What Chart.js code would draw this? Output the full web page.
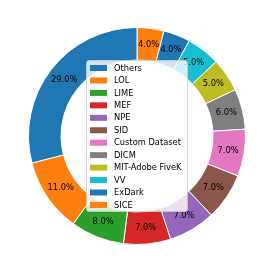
<!DOCTYPE html>
<html>
<head>
<meta charset="utf-8">
<script src="https://cdn.jsdelivr.net/npm/chart.js@4"></script>
<style>
  html, body { margin: 0; padding: 0; background: #ffffff; }
  #wrap { width: 274px; height: 274px; }
</style>
</head>
<body>
<div id="wrap"><canvas id="datasetChart" width="274" height="274"></canvas></div>
<script>
// Dataset usage shares (percent), in legend order
const datasetNames = ['Others', 'LOL', 'LIME', 'MEF', 'NPE', 'SID', 'Custom Dataset',
    'DICM', 'MIT-Adobe FiveK', 'VV', 'ExDark', 'SICE'];
const datasetShares = [29, 11, 8, 7, 7, 7, 7, 6, 5, 5, 4, 4];
const sliceColors = ['#1f77b4', '#ff7f0e', '#2ca02c', '#d62728', '#9467bd', '#8c564b',
    '#e377c2', '#7f7f7f', '#bcbd22', '#17becf', '#1f77b4', '#ff7f0e'];

const FONT = '8.3px "DejaVu Sans", sans-serif';

// reference goes counter-clockwise from the top, Chart.js goes clockwise -> reverse
const revNames = datasetNames.slice().reverse();
const revShares = datasetShares.slice().reverse();
const revColors = sliceColors.slice().reverse();

// percentage labels on each wedge
const pctLabels = {
    id: 'pctLabels',
    afterDatasetsDraw(chart) {
        const ctx = chart.ctx;
        const meta = chart.getDatasetMeta(0);
        const total = revShares.reduce((a, b) => a + b, 0);
        ctx.save();
        ctx.font = FONT;
        ctx.fillStyle = '#000000';
        ctx.textAlign = 'center';
        ctx.textBaseline = 'middle';
        meta.data.forEach((arc, i) => {
            const p = arc.getCenterPoint();
            const pct = (revShares[i] / total * 100).toFixed(1) + '%';
            ctx.fillText(pct, p.x, p.y);
        });
        ctx.restore();
    }
};

// matplotlib-style legend box sitting in the hole of the donut
const centerLegend = {
    id: 'centerLegend',
    afterDraw(chart) {
        const ctx = chart.ctx;
        const box = { x: 86.5, y: 60.5, w: 101, h: 151 };
        const rowGap = 12.45;
        ctx.save();
        ctx.beginPath();
        ctx.roundRect(box.x, box.y, box.w, box.h, 2.5);
        ctx.fillStyle = 'rgba(255,255,255,0.8)';
        ctx.fill();
        ctx.strokeStyle = 'rgba(204,204,204,0.8)';
        ctx.lineWidth = 1;
        ctx.stroke();
        ctx.font = FONT;
        ctx.textAlign = 'left';
        ctx.textBaseline = 'middle';
        datasetNames.forEach((name, i) => {
            const y = 68 + i * rowGap;
            ctx.fillStyle = sliceColors[i];
            ctx.fillRect(90, y - 3, 17, 6);
            ctx.fillStyle = '#000000';
            ctx.fillText(name, 114, y + 0.5);
        });
        ctx.restore();
    }
};

new Chart(document.getElementById('datasetChart'), {
    type: 'doughnut',
    data: {
        labels: revNames,
        datasets: [{
            data: revShares,
            backgroundColor: revColors,
            borderColor: '#ffffff',
            borderWidth: 1
        }]
    },
    options: {
        responsive: false,
        animation: false,
        cutout: '70%',
        layout: {
            padding: { left: 28, right: 28, top: 27, bottom: 29 }
        },
        plugins: {
            legend: { display: false },
            tooltip: { enabled: false }
        }
    },
    plugins: [pctLabels, centerLegend]
});
</script>
</body>
</html>
